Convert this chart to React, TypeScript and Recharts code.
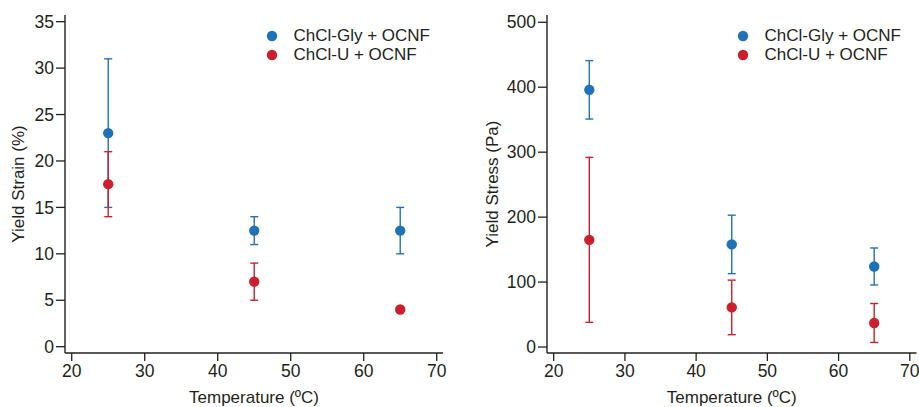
import React from 'react';
import { ScatterChart, Scatter, XAxis, YAxis, ErrorBar, Legend } from 'recharts';

const temps = [25, 45, 65];
const xTicks = [20, 30, 40, 50, 60, 70];

const strainGly = [23, 12.5, 12.5];
const strainGlyErr = [8, 1.5, 2.5];
const strainU = [17.5, 7, 4];
const strainUErr = [3.5, 2, 0];
const strainTicks = [0, 5, 10, 15, 20, 25, 30, 35];

const stressGly = [396, 158, 124];
const stressGlyErr = [45, 45, 28.5];
const stressU = [165, 61, 37];
const stressUErr = [127, 42, 30];
const stressTicks = [0, 100, 200, 300, 400, 500];

const BLUE = '#1f72b8';
const RED = '#cc1f2d';
const INK = '#231f20';
const FONT = '"Liberation Sans", Arial, sans-serif';
const TICK_FS = 17.5;
const TITLE_FS = 17;

const toPoints = (ys: number[], errs: number[]) =>
  temps.map((t, i) => ({ x: t, y: ys[i], err: errs[i] }));

const YTitle = (props: any) => {
  const { viewBox, value, cx } = props;
  const cy = viewBox.y + viewBox.height / 2;
  return (
    <text
      x={cx}
      y={cy}
      transform={`rotate(-90 ${cx} ${cy})`}
      textAnchor="middle"
      dominantBaseline="central"
      fill={INK}
      fontSize={TITLE_FS}
      fontFamily={FONT}
    >
      {value}
    </text>
  );
};

const LegendBox = (props: any) => (
  <div style={{ fontFamily: FONT, fontSize: 17, color: INK }}>
    {(props.payload || []).map((p: any) => (
      <div key={p.value} style={{ display: 'flex', alignItems: 'center', height: 19.5 }}>
        <svg width={12} height={12} style={{ marginRight: 16 }}>
          <circle cx={6} cy={6} r={5.2} fill={p.color} />
        </svg>
        <span>{p.value}</span>
      </div>
    ))}
  </div>
);

interface PanelProps {
  left: number;
  width: number;
  plotLeft: number;
  plotRight: number;
  gly: number[];
  glyErr: number[];
  u: number[];
  uErr: number[];
  yDomain: [number, number];
  yTicks: number[];
  yTitle: string;
  yTitleX: number;
  legendLeft: number;
  xDomain: [number, number];
}

const frameLine = { stroke: INK, strokeWidth: 1.4 };

const Panel: React.FC<PanelProps> = (p) => {
  const height = 407;
  const top = 15;
  const bottom = 353;
  const yAxisW = 40;
  return (
    <div style={{ position: 'absolute', left: p.left, top: 0 }}>
      <ScatterChart
        width={p.width}
        height={height}
        margin={{ top, right: p.width - p.plotRight, bottom: height - bottom - 40, left: p.plotLeft - yAxisW }}
      >
        <XAxis
          type="number"
          dataKey="x"
          domain={p.xDomain}
          ticks={xTicks}
          allowDataOverflow
          height={40}
          tickSize={8}
          tickMargin={4}
          axisLine={frameLine}
          tickLine={{ stroke: INK, strokeWidth: 1.3 }}
          tick={{ fill: INK, fontSize: TICK_FS, fontFamily: FONT }}
          label={{ value: 'Temperature (ºC)', position: 'insideBottom', offset: -10, fill: INK, fontSize: TITLE_FS, fontFamily: FONT }}
        />
        <XAxis xAxisId="top" orientation="top" type="number" dataKey="x" domain={p.xDomain}
          allowDataOverflow height={0} tick={false} tickLine={false} axisLine={frameLine} />
        <YAxis
          type="number"
          dataKey="y"
          domain={p.yDomain}
          ticks={p.yTicks}
          allowDataOverflow
          width={yAxisW}
          tickSize={9}
          tickMargin={2}
          axisLine={frameLine}
          tickLine={{ stroke: INK, strokeWidth: 1.3 }}
          tick={{ fill: INK, fontSize: TICK_FS, fontFamily: FONT }}
          label={<YTitle value={p.yTitle} cx={p.yTitleX} />}
        />
        <YAxis yAxisId="right" orientation="right" type="number" dataKey="y" domain={p.yDomain}
          allowDataOverflow width={0} tick={false} tickLine={false} axisLine={frameLine} />
        <Legend
          layout="horizontal"
          verticalAlign="middle"
          align="center"
          wrapperStyle={{ left: p.legendLeft, top: 26, width: 200 }}
          content={<LegendBox />}
        />
        <Scatter name="ChCl-Gly + OCNF" data={toPoints(p.gly, p.glyErr)} fill={BLUE} isAnimationActive={false}
          shape={(s: any) => <circle cx={s.cx} cy={s.cy} r={5.2} fill={BLUE} />}>
          <ErrorBar dataKey="err" direction="y" width={4} stroke={BLUE} strokeWidth={1.4} />
        </Scatter>
        <Scatter name="ChCl-U + OCNF" data={toPoints(p.u, p.uErr)} fill={RED} isAnimationActive={false}
          shape={(s: any) => <circle cx={s.cx} cy={s.cy} r={5.2} fill={RED} />}>
          <ErrorBar dataKey="err" direction="y" width={4} stroke={RED} strokeWidth={1.4} />
        </Scatter>
      </ScatterChart>
    </div>
  );
};

export default function App() {
  return (
    <div style={{ position: 'absolute', left: 0, top: 0, width: 919, height: 407, background: '#fff' }}>
      <Panel
        left={0}
        width={460}
        plotLeft={65}
        plotRight={443}
        gly={strainGly}
        glyErr={strainGlyErr}
        u={strainU}
        uErr={strainUErr}
        yDomain={[-0.68, 35.72]}
        yTicks={strainTicks}
        yTitle="Yield Strain (%)"
        yTitleX={18}
        legendLeft={265.5}
        xDomain={[19.08, 70.86]}
      />
      <Panel
        left={460}
        width={459}
        plotLeft={87}
        plotRight={456.5}
        gly={stressGly}
        glyErr={stressGlyErr}
        u={stressU}
        uErr={stressUErr}
        yDomain={[-9.2, 511.2]}
        yTicks={stressTicks}
        yTitle="Yield Stress (Pa)"
        yTitleX={32}
        legendLeft={276.5}
        xDomain={[19.06, 70.94]}
      />
    </div>
  );
}
